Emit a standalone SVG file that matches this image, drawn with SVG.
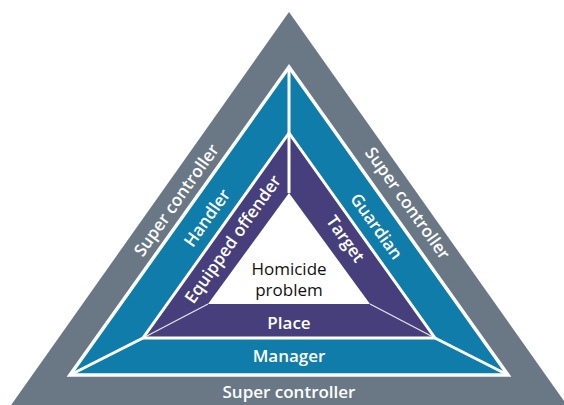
<svg xmlns="http://www.w3.org/2000/svg" width="564" height="405" viewBox="0 0 564 405">
  <style>
    .lbl { font-family: "Open Sans", "Liberation Sans", sans-serif; font-size: 17px; font-weight: 600; fill: #ffffff; text-anchor: middle; }
    .core { fill: #111111; font-weight: 500; font-size: 17px; }
    .gray { fill: #6a7886; }
    .blue { fill: #0f7ca9; stroke: #ffffff; stroke-width: 3.5; stroke-linejoin: miter; }
    .purple { fill: #463f7c; stroke: #ffffff; stroke-width: 3; stroke-linejoin: miter; }
    .div { stroke: #ffffff; stroke-width: 3; fill: none; }
    .thin { stroke: #ffffff; stroke-width: 1.4; stroke-opacity: 0.85; fill: none; }
  </style>
  <rect width="564" height="405" fill="#ffffff"/>

  <g id="super-controller">
    <polygon class="gray" points="289,12 9,408 569,408"/>
    <text class="lbl" transform="translate(177.5,201) rotate(-54.6)" y="4.5">Super controller</text>
    <text class="lbl" transform="translate(406.5,204) rotate(54.6)" y="4.5">Super controller</text>
    <text class="lbl" x="289" y="398">Super controller</text>
  </g>

  <g id="controllers">
    <polygon class="blue" points="289,67 70,375 508,375"/>
    <text class="lbl" transform="translate(206.5,217.5) rotate(-54.6)" y="6.5">Handler</text>
    <text class="lbl" transform="translate(377,226) rotate(54.6)" y="6.5">Guardian</text>
    <text class="lbl" x="289" y="362">Manager</text>
  </g>

  <g id="problem-triangle">
    <polygon class="purple" points="289,133 143,338 435,338"/>
    <text class="lbl" transform="translate(234,240) rotate(-54.6)" y="4.5">Equipped offender</text>
    <text class="lbl" transform="translate(344,240) rotate(54.6)" y="4">Target</text>
    <text class="lbl" x="289" y="328.5">Place</text>
  </g>

  <g id="homicide-problem">
    <polygon points="289,193 208,304 370,304" fill="#ffffff"/>
    <text class="lbl core" x="289" y="274.5">Homicide</text>
    <text class="lbl core" x="289" y="296">problem</text>
  </g>

  <g id="connectors">
    <line class="div" x1="289" y1="67" x2="289" y2="133"/>
    <line class="div" x1="70" y1="375" x2="143" y2="338"/>
    <line class="div" x1="508" y1="375" x2="435" y2="338"/>
    <line class="div" x1="289" y1="133" x2="289" y2="193" stroke-width="2.5"/>
    <line class="thin" x1="208" y1="304" x2="143" y2="338"/>
    <line class="thin" x1="370" y1="304" x2="435" y2="338"/>
  </g>
</svg>
